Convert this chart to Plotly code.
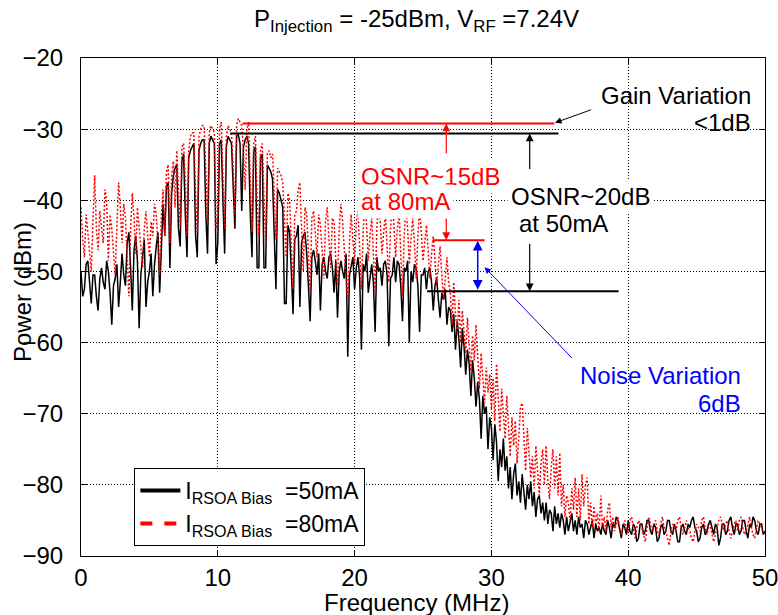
import plotly.graph_objects as go

# ---------------- data ----------------
freq_start_mhz = 0.0
freq_step_mhz = 0.125

# one row = 1 MHz (8 samples)
power_50mA = [
    -50.0, -53.5, -52.5, -49.0, -48.5, -52.0, -54.5, -50.5,
    -50.5, -53.5, -55.5, -51.0, -49.5, -51.5, -52.5, -48.5,
    -50.0, -53.0, -57.5, -52.0, -51.0, -49.0, -55.0, -51.5,
    -47.5, -50.5, -52.0, -46.0, -44.5, -49.5, -55.5, -47.0,
    -45.0, -48.5, -58.0, -50.5, -48.0, -45.5, -55.0, -51.5,
    -50.0, -47.5, -53.5, -49.0, -46.5, -44.5, -53.0, -45.5,
    -40.5, -45.0, -38.0, -37.5, -49.5, -39.0, -36.5, -35.5,
    -35.0, -44.0, -46.5, -34.5, -33.5, -42.0, -48.0, -34.0,
    -33.0, -32.5, -32.0, -45.0, -48.0, -33.0, -32.0, -31.5,
    -31.5, -42.0, -47.5, -32.0, -31.0, -31.5, -32.0, -49.0,
    -46.0, -32.0, -31.5, -40.0, -47.5, -32.5, -31.0, -31.5,
    -32.0, -38.0, -44.0, -31.0, -30.8, -32.0, -41.5, -32.5,
    -31.5, -31.0, -32.0, -42.0, -48.0, -33.0, -32.5, -49.5,
    -49.5, -34.0, -33.5, -49.5, -49.5, -35.0, -35.5, -36.0,
    -37.0, -44.0, -52.5, -38.5, -39.0, -40.0, -41.0, -54.5,
    -54.5, -43.5, -44.5, -50.0, -56.0, -45.5, -45.0, -43.5,
    -55.0, -46.0, -45.0, -44.5, -47.5, -52.0, -57.0, -48.0,
    -47.0, -48.5, -50.5, -47.5, -55.5, -49.0, -48.0, -50.0,
    -51.0, -48.0, -47.5, -49.5, -53.0, -48.5, -56.5, -50.0,
    -48.5, -50.0, -51.0, -47.5, -62.0, -50.5, -49.0, -48.0,
    -52.5, -49.5, -48.0, -51.0, -61.0, -49.0, -50.0, -47.5,
    -53.0, -50.5, -49.0, -51.5, -58.5, -48.0, -50.0, -49.5,
    -52.0, -49.0, -48.5, -50.5, -60.5, -51.0, -50.5, -48.0,
    -51.5, -48.5, -49.0, -52.0, -57.0, -49.5, -50.0, -48.5,
    -60.0, -50.0, -51.5, -49.0, -49.5, -52.0, -58.5, -50.5,
    -50.5, -49.5, -52.5, -50.0, -49.5, -51.5, -55.5, -52.0,
    -51.0, -54.0, -56.5, -53.0, -54.0, -52.5, -57.5, -55.0,
    -55.5, -58.5, -56.0, -61.0, -57.0, -59.5, -63.5, -58.0,
    -60.5, -64.5, -61.0, -63.0, -67.5, -62.5, -65.0, -69.0,
    -65.5, -68.0, -73.5, -67.5, -70.0, -69.0, -75.0, -70.5,
    -72.0, -76.5, -71.5, -74.0, -79.5, -75.0, -77.5, -73.5,
    -78.0, -76.0, -80.5, -77.5, -82.0, -78.5, -77.0, -81.5,
    -79.5, -82.5, -78.5, -81.0, -83.5, -80.0, -82.0, -79.5,
    -83.0, -81.0, -84.5, -82.0, -81.5, -84.0, -82.5, -85.0,
    -82.5, -85.5, -83.5, -84.0, -86.5, -83.0, -85.5, -84.0,
    -86.0, -84.0, -85.0, -87.0, -84.5, -86.5, -85.0, -84.0,
    -86.5, -85.0, -87.0, -84.5, -86.0, -85.5, -87.5, -85.0,
    -85.5, -87.0, -86.0, -85.0, -87.5, -85.5, -86.5, -86.0,
    -87.0, -85.5, -86.5, -87.0, -85.0, -86.0, -87.5, -85.5,
    -86.0, -84.5, -85.0, -86.5, -87.5, -85.5, -86.0, -87.0,
    -85.0, -86.5, -87.0, -85.5, -86.0, -88.0, -87.5, -85.5,
    -85.5, -87.0, -86.5, -85.0, -85.0, -86.5, -87.0, -85.5,
    -86.0, -88.0, -87.5, -86.0, -85.5, -87.0, -86.5, -85.0,
    -85.0, -86.5, -87.0, -85.5, -86.5, -88.0, -88.0, -86.0,
    -85.5, -86.5, -87.0, -85.5, -86.0, -85.0, -84.5, -86.0,
    -86.5, -88.0, -87.5, -86.0, -85.5, -87.0, -86.5, -85.5,
    -85.0, -86.0, -87.0, -85.5, -86.0, -88.5, -87.5, -85.5,
    -85.5, -87.0, -86.5, -85.0, -84.5, -86.0, -87.0, -85.5,
    -85.5, -87.0, -86.5, -85.0, -85.0, -86.5, -87.5, -85.5,
    -86.0, -84.5, -85.0, -86.5, -87.0, -85.5, -85.5, -87.0,
    -86.5,
]

power_80mA = [
    -41.0, -45.5, -48.0, -42.0, -44.5, -47.5, -50.0, -43.0,
    -36.5, -44.0, -47.0, -41.5, -43.5, -46.0, -38.5, -40.0,
    -48.5, -42.0, -44.0, -47.0, -50.5, -43.5, -37.5, -41.0,
    -46.0, -40.5, -42.5, -48.0, -53.5, -44.0, -39.0, -42.5,
    -47.5, -41.0, -43.5, -46.5, -49.5, -44.0, -41.5, -45.0,
    -48.0, -43.0, -45.0, -40.5, -42.0, -46.0, -50.5, -42.0,
    -38.5, -45.0, -36.0, -35.0, -46.0, -36.5, -34.5, -41.0,
    -33.0, -38.5, -43.5, -32.5, -32.0, -37.0, -45.0, -33.0,
    -31.0, -30.5, -30.5, -39.0, -44.5, -31.0, -30.0, -29.5,
    -29.5, -36.0, -43.0, -30.5, -29.5, -30.0, -30.5, -44.0,
    -42.5, -30.0, -29.0, -36.5, -44.0, -31.0, -29.5, -30.0,
    -30.5, -35.5, -42.0, -29.5, -28.5, -29.0, -29.5, -33.0,
    -38.5, -30.0, -29.0, -37.0, -44.5, -32.0, -31.0, -40.0,
    -45.0, -33.0, -32.0, -39.5, -46.0, -33.5, -33.0, -34.0,
    -33.5, -39.0, -45.5, -35.5, -36.0, -36.5, -37.5, -44.0,
    -48.0, -39.0, -40.0, -46.0, -52.5, -42.0, -41.5, -38.5,
    -37.5, -44.0, -50.0, -41.0, -42.0, -47.5, -53.0, -42.5,
    -41.5, -44.5, -48.0, -42.0, -43.5, -47.0, -51.0, -43.0,
    -41.0, -45.5, -49.5, -42.5, -43.0, -48.5, -52.0, -44.0,
    -40.5, -43.0, -47.5, -51.0, -54.0, -46.0, -42.0, -45.5,
    -49.0, -43.0, -41.5, -47.0, -52.5, -44.5, -40.0, -43.5,
    -48.5, -45.0, -42.5, -47.5, -53.0, -44.0, -39.5, -43.0,
    -47.5, -44.5, -42.0, -46.5, -51.5, -44.0, -40.0, -43.5,
    -48.0, -44.0, -41.5, -47.5, -53.5, -45.0, -40.5, -44.0,
    -49.0, -45.5, -42.5, -46.0, -51.0, -45.0, -41.0, -44.5,
    -48.5, -46.0, -43.5, -47.0, -51.0, -47.5, -45.0, -48.5,
    -52.0, -49.0, -46.5, -50.5, -54.0, -51.0, -48.0, -51.5,
    -53.0, -57.5, -51.5, -56.0, -58.5, -54.0, -60.0, -55.5,
    -58.0, -61.5, -56.5, -60.0, -64.0, -59.0, -62.5, -57.5,
    -63.0, -66.5, -61.5, -65.0, -68.5, -63.5, -67.0, -64.5,
    -69.5, -65.0, -71.0, -63.0, -68.0, -72.5, -66.5, -70.5,
    -73.5, -67.5, -72.0, -76.0, -70.5, -74.5, -71.0, -77.0,
    -73.5, -69.0, -68.5, -74.0, -78.0, -72.0, -75.5, -79.0,
    -76.0, -80.5, -74.5, -78.5, -81.5, -77.0, -75.0, -80.0,
    -74.5, -79.5, -82.0, -77.5, -75.0, -80.5, -76.0, -81.5,
    -75.5, -83.0, -80.0, -84.5, -81.5, -82.5, -85.0, -80.5,
    -83.5, -79.0, -84.5, -80.5, -85.0, -78.5, -83.0, -80.0,
    -79.0, -85.5, -82.5, -86.0, -83.0, -85.5, -84.0, -86.5,
    -81.5, -86.0, -84.5, -86.5, -83.5, -82.5, -86.0, -84.5,
    -86.5, -85.5, -84.5, -86.0, -87.0, -86.0, -85.0, -86.5,
    -86.5, -85.0, -84.5, -86.0, -87.5, -86.0, -85.0, -85.5,
    -86.0, -87.0, -88.0, -86.0, -84.5, -85.5, -86.5, -85.5,
    -85.0, -86.5, -87.0, -85.5, -84.5, -86.0, -86.5, -87.5,
    -88.5, -86.5, -85.5, -86.0, -86.5, -85.0, -84.5, -86.0,
    -87.0, -86.0, -85.0, -86.0, -86.5, -87.5, -88.0, -86.5,
    -85.5, -86.0, -86.5, -85.0, -84.5, -86.0, -87.0, -86.0,
    -85.5, -87.0, -88.0, -87.0, -86.0, -85.0, -84.5, -85.5,
    -86.5, -85.5, -85.0, -86.5, -87.5, -86.5, -85.5, -85.0,
    -86.5, -85.0, -84.5, -86.0, -87.0, -86.5, -85.5, -84.5,
    -86.0, -87.0, -87.5, -86.0, -85.0, -85.5, -86.0, -87.0,
    -86.5,
]

# reference levels drawn on the figure (dBm) and their frequency spans (MHz)
level_dbm = [-29.2, -30.6, -45.6, -52.8]
level_start_mhz = [11.8, 10.9, 25.7, 25.3]
level_end_mhz = [34.6, 34.9, 29.5, 39.3]
level_colors = ["red", "black", "red", "black"]

x_ticks = [0, 10, 20, 30, 40, 50]
y_ticks = [-20, -30, -40, -50, -60, -70, -80, -90]

FONT = "Liberation Sans, Arial, sans-serif"
FS = 24

fig = go.Figure()

fig.add_trace(go.Scatter(
    x0=freq_start_mhz, dx=freq_step_mhz, y=power_50mA, mode="lines",
    line=dict(color="black", width=1.5), showlegend=False,
))
fig.add_trace(go.Scatter(
    x0=freq_start_mhz, dx=freq_step_mhz, y=power_80mA, mode="lines",
    line=dict(color="red", width=1.5, dash="2px,2px"), showlegend=False,
))

for lv, x0, x1, c in zip(level_dbm, level_start_mhz, level_end_mhz, level_colors):
    fig.add_trace(go.Scatter(x=[x0, x1], y=[lv, lv], mode="lines",
                             line=dict(color=c, width=2), showlegend=False,
                             hoverinfo="skip"))

# legend entries
fig.add_trace(go.Scatter(x=[None], y=[None], mode="lines",
                         line=dict(color="black", width=4),
                         name="I<sub>RSOA Bias</sub>  =50mA"))
fig.add_trace(go.Scatter(x=[None], y=[None], mode="lines",
                         line=dict(color="red", width=4, dash="dash"),
                         name="I<sub>RSOA Bias</sub>  =80mA"))

ann = []


def arrow(x, y, ax, ay, color, side="end", width=1.2):
    ann.append(dict(x=x, y=y, ax=ax, ay=ay, xref="x", yref="y", axref="x",
                    ayref="y", text="", showarrow=True, arrowhead=2,
                    arrowsize=1.3, arrowwidth=width, arrowcolor=color,
                    arrowside=side, startarrowhead=2, startarrowsize=1.3))


def label(x, y, text, color, xanchor, bg=None):
    d = dict(x=x, y=y, xref="x", yref="y", text=text, showarrow=False,
             xanchor=xanchor, yanchor="middle",
             font=dict(family=FONT, size=FS, color=color))
    if bg:
        d.update(bgcolor=bg, borderpad=3)
    ann.append(d)


# OSNR arrows
arrow(26.7, level_dbm[0], 26.7, -33.6, "red")
arrow(26.7, level_dbm[2], 26.7, -41.8, "red")
arrow(32.8, level_dbm[1], 32.8, -35.8, "black")
arrow(32.8, level_dbm[3], 32.8, -45.9, "black")
# noise variation double arrow
arrow(29.0, level_dbm[2] - 0.1, 29.0, level_dbm[3], "blue", side="end+start", width=1.5)
# pointer lines
arrow(29.5, -49.4, 36.0, -62.4, "blue", width=1)
arrow(34.65, -29.1, 37.4, -27.2, "black", width=1)

label(20.2, -36.6, "OSNR~15dB", "red", "left", bg="white")
label(20.2, -40.1, "at 80mA", "red", "left", bg="white")
label(36.5, -39.4, "OSNR~20dB", "black", "center", bg="white")
label(35.3, -43.2, "at 50mA", "black", "center", bg="white")
label(49.1, -25.3, "Gain Variation", "black", "right")
label(49.1, -29.1, "&lt;1dB", "black", "right")
label(48.4, -64.6, "Noise Variation", "blue", "right")
label(48.4, -68.6, "6dB", "blue", "right")

# title and axis titles (placed in paper coordinates)
ann.append(dict(x=0.49, y=1.0, xref="paper", yref="paper", yshift=38,
                text="P<sub>Injection</sub> = -25dBm, V<sub>RF</sub> =7.24V",
                showarrow=False, xanchor="center", yanchor="middle",
                font=dict(family=FONT, size=FS, color="black")))
ann.append(dict(x=0.49, y=0.0, xref="paper", yref="paper", yshift=-46,
                text="Frequency (MHz)", showarrow=False, xanchor="center",
                yanchor="middle", font=dict(family=FONT, size=FS, color="black")))
ann.append(dict(x=0.0, y=0.53, xref="paper", yref="paper", xshift=-59,
                text="Power (dBm)", textangle=-90, showarrow=False,
                xanchor="center", yanchor="middle",
                font=dict(family=FONT, size=FS, color="black")))

axis_common = dict(
    showgrid=True, gridcolor="black", griddash="1px,2px", gridwidth=0.8,
    zeroline=False, showline=True, linecolor="black", linewidth=1,
    mirror="ticks", ticks="inside", ticklen=6, tickcolor="black",
    tickfont=dict(family=FONT, size=FS, color="black"), automargin=False,
)

fig.update_layout(
    width=778, height=615,
    margin=dict(l=81, r=13, t=58, b=59),
    paper_bgcolor="white", plot_bgcolor="white",
    font=dict(family=FONT, size=FS, color="black"),
    annotations=ann,
    legend=dict(x=0.078, y=0.02, xanchor="left", yanchor="bottom",
                bordercolor="black", borderwidth=1, bgcolor="white",
                font=dict(family=FONT, size=23, color="black"),
                tracegroupgap=0, itemwidth=40),
    xaxis=dict(range=[0, 50], tickvals=x_ticks, ticklabelstandoff=0,
               ticklabeloverflow="allow", **axis_common),
    yaxis=dict(range=[-90, -20], tickvals=y_ticks, ticklabelstandoff=12,
               **axis_common),
)

fig.write_html(
    "out.html",
    config={"displayModeBar": False},
    post_script="document.body.style.margin='0';document.body.style.overflow='hidden';",
)
